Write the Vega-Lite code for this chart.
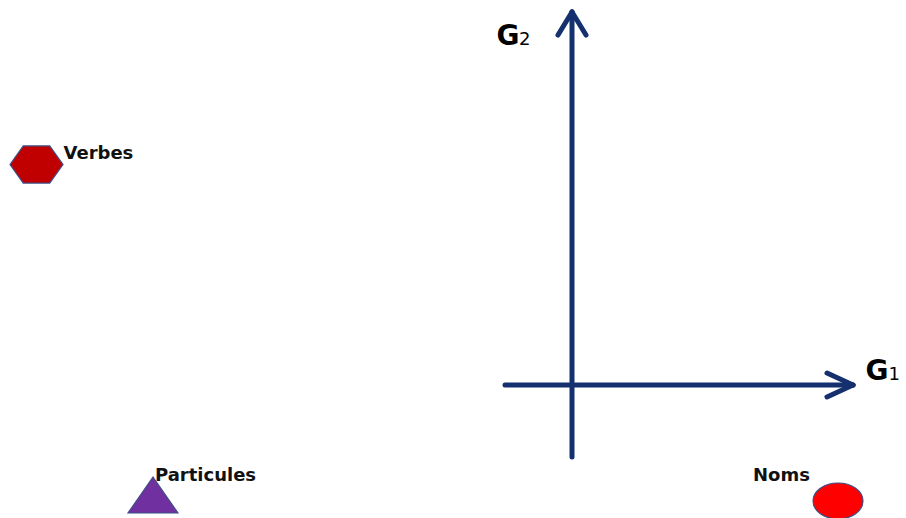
{
  "$schema": "https://vega.github.io/schema/vega-lite/v6.json",
  "width": 906,
  "height": 518,
  "padding": 0,
  "autosize": {"type": "none"},
  "background": "white",
  "config": {"view": {"stroke": null}},
  "datasets": {
    "segments": [
      {"part": "G1 axis", "x": -0.67, "y": 0, "x2": 2.81, "y2": 0},
      {"part": "G1 arrow upper", "x": 2.55, "y": 0.12, "x2": 2.81, "y2": 0},
      {"part": "G1 arrow lower", "x": 2.55, "y": -0.12, "x2": 2.81, "y2": 0},
      {"part": "G2 axis", "x": 0, "y": -0.72, "x2": 0, "y2": 3.73},
      {"part": "G2 arrow left", "x": -0.14, "y": 3.5, "x2": 0, "y2": 3.73},
      {"part": "G2 arrow right", "x": 0.14, "y": 3.5, "x2": 0, "y2": 3.73}
    ],
    "points": [
      {"categorie": "Verbes", "x": -5.355, "y": 2.205},
      {"categorie": "Particules", "x": -4.19, "y": -1.1},
      {"categorie": "Noms", "x": 2.66, "y": -1.16}
    ],
    "axisnames": [
      {"letter": "G", "x": -0.755, "y": 3.4},
      {"letter": "G", "x": 2.935, "y": 0.05}
    ],
    "axisindex": [
      {"index": "2", "x": -0.53, "y": 3.4},
      {"index": "1", "x": 3.165, "y": 0.05}
    ]
  },
  "encoding": {
    "x": {"field": "x", "type": "quantitative", "axis": null, "scale": {"domain": [-5.72, 3.34], "nice": false, "zero": false}},
    "y": {"field": "y", "type": "quantitative", "axis": null, "scale": {"domain": [-1.33, 3.85], "nice": false, "zero": false}}
  },
  "layer": [
    {
      "data": {"name": "segments"},
      "mark": {"type": "rule", "color": "#14306e", "strokeWidth": 5, "strokeCap": "round"},
      "encoding": {
        "x2": {"field": "x2"},
        "y2": {"field": "y2"}
      }
    },
    {
      "data": {"name": "points"},
      "transform": [{"filter": "datum.categorie === 'Verbes'"}],
      "mark": {"type": "point", "filled": true, "fill": "#c00000", "stroke": "#3d4f86", "strokeWidth": 1.2, "opacity": 1, "size": 2809, "shape": "M-1,0 L-0.5,-0.7 L0.5,-0.7 L1,0 L0.5,0.7 L-0.5,0.7 Z"}
    },
    {
      "data": {"name": "points"},
      "transform": [{"filter": "datum.categorie === 'Particules'"}],
      "mark": {"type": "point", "filled": true, "fill": "#7030a0", "stroke": "#3d4f86", "strokeWidth": 1.2, "opacity": 1, "size": 2500, "shape": "M0,-0.72 L1,0.72 L-1,0.72 Z"}
    },
    {
      "data": {"name": "points"},
      "transform": [{"filter": "datum.categorie === 'Noms'"}],
      "mark": {"type": "point", "filled": true, "fill": "#ff0000", "stroke": "#3d4f86", "strokeWidth": 1.2, "opacity": 1, "size": 2500, "shape": "M-1,0 A1,0.72 0 1,0 1,0 A1,0.72 0 1,0 -1,0 Z"}
    },
    {
      "data": {"name": "points"},
      "transform": [{"filter": "datum.categorie === 'Verbes'"}],
      "mark": {"type": "text", "font": "DejaVu Sans", "fontWeight": "bold", "fontSize": 18, "align": "left", "baseline": "alphabetic", "dx": 27, "dy": -6, "color": "#111111"},
      "encoding": {"text": {"field": "categorie"}}
    },
    {
      "data": {"name": "points"},
      "transform": [{"filter": "datum.categorie === 'Particules'"}],
      "mark": {"type": "text", "font": "DejaVu Sans", "fontWeight": "bold", "fontSize": 18, "align": "left", "baseline": "alphabetic", "dx": 2, "dy": -14, "color": "#111111"},
      "encoding": {"text": {"field": "categorie"}}
    },
    {
      "data": {"name": "points"},
      "transform": [{"filter": "datum.categorie === 'Noms'"}],
      "mark": {"type": "text", "font": "DejaVu Sans", "fontWeight": "bold", "fontSize": 18, "align": "left", "baseline": "alphabetic", "dx": -85, "dy": -20, "color": "#111111"},
      "encoding": {"text": {"field": "categorie"}}
    },
    {
      "data": {"name": "axisnames"},
      "mark": {"type": "text", "font": "DejaVu Sans", "fontWeight": "bold", "fontSize": 28, "align": "left", "baseline": "alphabetic", "color": "#000000"},
      "encoding": {"text": {"field": "letter"}}
    },
    {
      "data": {"name": "axisindex"},
      "mark": {"type": "text", "font": "DejaVu Sans", "fontSize": 18, "align": "left", "baseline": "alphabetic", "color": "#000000"},
      "encoding": {"text": {"field": "index"}}
    }
  ]
}
